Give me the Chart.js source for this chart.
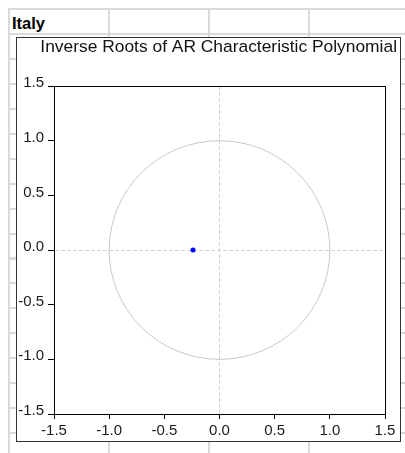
<!DOCTYPE html>
<html lang="en">
<head>
<meta charset="UTF-8" />
<title>Italy</title>
<script src="https://cdn.jsdelivr.net/npm/chart.js@4"></script>
<style>
  html, body { margin: 0; padding: 0; background: #fff; }
  .sheet {
    position: absolute; left: 8px; top: 8px; width: 397px; height: 445px;
    background-image:
      repeating-linear-gradient(to right, #d9d9d9 0 2px, transparent 2px 100px),
      repeating-linear-gradient(to bottom, #d9d9d9 0 2px, transparent 2px 24.95px);
  }
  .name {
    position: absolute; left: 12px; top: 15px;
    font: bold 16.5px/16px "Liberation Sans", Arial, sans-serif; color: #000;
  }
  .box {
    position: absolute; left: 16px; top: 37px; width: 385px; height: 405px;
    box-sizing: border-box; border: 1px solid #333; background: #fff;
  }
</style>
</head>
<body>
  <div class="sheet"></div>
  <div class="name">Italy</div>
  <div class="box"><canvas id="roots" width="383" height="403"></canvas></div>
<script>
  // inverse AR roots (real / imaginary parts)
  const rootRe = [-0.24];
  const rootIm = [0];
  const axisTicks = [-1.5, -1.0, -0.5, 0.0, 0.5, 1.0, 1.5];
  const unitRadius = 1;

  Chart.defaults.font.family = '"Liberation Sans", Arial, sans-serif';
  Chart.defaults.color = '#1a1a1a';

  const circleAndFrame = {
    id: 'circleAndFrame',
    beforeDatasetsDraw(chart) {
      const { ctx, chartArea: a, scales: { x, y } } = chart;
      const cx = x.getPixelForValue(0), cy = y.getPixelForValue(0);
      const rx = x.getPixelForValue(unitRadius) - cx;
      const ry = cy - y.getPixelForValue(unitRadius);
      ctx.save();
      ctx.strokeStyle = '#c8c8c8';
      ctx.lineWidth = 1;
      ctx.beginPath();
      ctx.ellipse(cx, cy, rx, ry, 0, 0, Math.PI * 2);
      ctx.stroke();
      ctx.strokeStyle = '#000';
      ctx.strokeRect(Math.round(a.left) + 0.5, Math.round(a.top) + 0.5,
        Math.round(a.right - a.left), Math.round(a.bottom - a.top));
      ctx.restore();
    }
  };

  const zeroLine = (c) => (c.tick && c.tick.value === 0 ? '#d4d4d4' : 'rgba(0,0,0,0)');

  const axis = (extra) => Object.assign({
    type: 'linear',
    min: axisTicks[0],
    max: axisTicks[axisTicks.length - 1],
    grid: { color: zeroLine, tickColor: '#000', drawTicks: true },
    border: { display: true, color: '#000', width: 1, dash: [4, 2] },
    ticks: {
      stepSize: 0.5,
      font: { size: 15 },
      color: '#1a1a1a',
      callback: (v) => Number(v).toFixed(1),
    },
  }, extra);

  const xAxis = axis({ afterFit: (s) => { s.height = 27; } });
  xAxis.grid.tickLength = 5;
  xAxis.ticks.padding = 3;
  xAxis.ticks.maxRotation = 0;

  const yAxis = axis({ afterFit: (s) => { s.width = 37; } });
  yAxis.grid = { color: zeroLine, tickColor: '#000', drawTicks: true, tickLength: 6 };
  yAxis.ticks = Object.assign({}, yAxis.ticks, { padding: 4, labelOffset: -3 });

  // empty spacer on the right, keeps the plot narrower than the title
  const rightGap = {
    type: 'linear', position: 'right', display: true,
    grid: { display: false }, ticks: { display: false }, border: { display: false },
    afterFit: (s) => { s.width = 12; },
  };

  new Chart(document.getElementById('roots'), {
    type: 'scatter',
    data: {
      datasets: [{
        data: rootRe.map((re, i) => ({ x: re, y: rootIm[i] })),
        xAxisID: 'x',
        yAxisID: 'y',
        backgroundColor: '#0000ff',
        borderColor: '#0000ff',
        borderWidth: 0,
        pointRadius: 2.5,
      }],
    },
    options: {
      responsive: false,
      animation: false,
      layout: { padding: { left: 0, right: 3, top: 0, bottom: 0 } },
      scales: { x: xAxis, y: yAxis, gap: rightGap },
      plugins: {
        legend: { display: false },
        tooltip: { enabled: false },
        title: {
          display: true,
          align: 'end',
          text: 'Inverse Roots of AR Characteristic Polynomial',
          color: '#111',
          font: { size: 17.4, weight: 'normal', lineHeight: 1.1 },
          padding: { top: 0, bottom: 28.9 },
        },
      },
    },
    plugins: [circleAndFrame],
  });
</script>
</body>
</html>
